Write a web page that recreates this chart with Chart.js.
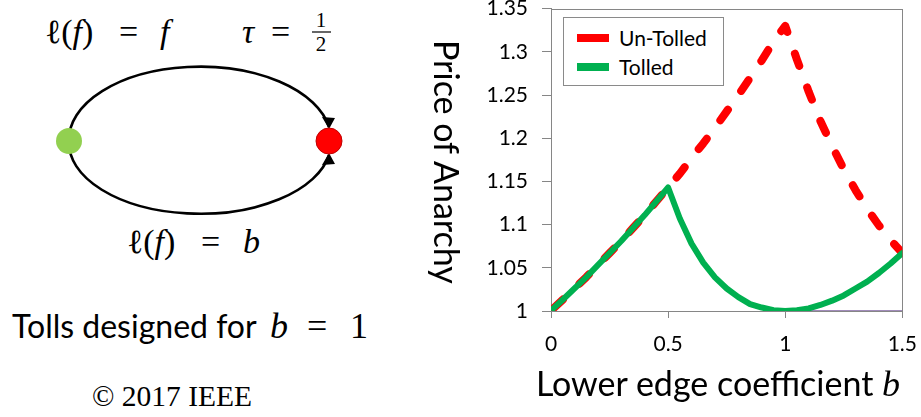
<!DOCTYPE html>
<html>
<head>
<meta charset="utf-8">
<script src="https://cdn.jsdelivr.net/npm/chart.js@4.4.1/dist/chart.umd.min.js"></script>
<style>
  html, body { margin: 0; padding: 0; background: #fff; }
  #page { position: relative; width: 921px; height: 417px; overflow: hidden; font-family: Lato, "Open Sans", sans-serif; }
  #diagram { position: absolute; left: 0; top: 0; }
  #chartBox { position: absolute; left: 420px; top: -18px; width: 511px; height: 435px; }
  #yTitle { position: absolute; left: 429px; top: 40px; writing-mode: vertical-rl; font-size: 34px; line-height: 36px; color: #000; white-space: nowrap; }
  #xTitle { position: absolute; left: 533px; width: 370px; top: 363px; text-align: center; font-size: 34px; line-height: 40px; color: #000; white-space: nowrap; }
  #xTitle i { font-family: "Liberation Serif", "DejaVu Serif", serif; font-size: 36px; }
  #legend { position: absolute; left: 563px; top: 17px; width: 159px; height: 67px; border: 1px solid #8a8a8a; background: #fff; }
  .item { position: absolute; left: 0; height: 24px; font-size: 21px; line-height: 24px; color: #000; white-space: nowrap; }
  .swatch { position: absolute; left: 13px; top: 8px; width: 32px; height: 8px; }
  .item span { position: absolute; left: 55px; top: 0; }
</style>
</head>
<body>
<div id="page">
  <!-- left side: the two-link network -->
  <svg id="diagram" width="420" height="417" xmlns="http://www.w3.org/2000/svg">
    <g font-family="Liberation Serif, DejaVu Serif, serif" fill="#000">
      <text x="45" y="43" font-size="34">ℓ(<tspan font-style="italic">f</tspan>)</text>
      <text x="119" y="43" font-size="34">=</text>
      <text x="160" y="43" font-size="34" font-style="italic">f</text>
      <text x="242" y="43" font-size="34" font-style="italic">τ</text>
      <text x="271" y="43" font-size="34">=</text>
      <text x="321" y="27" font-size="21" text-anchor="middle">1</text>
      <line x1="312" y1="32" x2="331" y2="32" stroke="#000" stroke-width="1.2"/>
      <text x="321" y="51" font-size="21" text-anchor="middle">2</text>
      <text x="127" y="253" font-size="34">ℓ(<tspan font-style="italic">f</tspan>)</text>
      <text x="201" y="253" font-size="34">=</text>
      <text x="243" y="253" font-size="34" font-style="italic">b</text>
    </g>
    <path d="M69,141 A131,73 0 0 1 329,127" fill="none" stroke="#000" stroke-width="2.6"/>
    <path d="M69,141 A131,71 0 0 0 329,155" fill="none" stroke="#000" stroke-width="2.6"/>
    <polygon points="329,129 322,117 335,118" fill="#000"/>
    <polygon points="329,153 322,165 335,164" fill="#000"/>
    <circle cx="69" cy="141" r="13" fill="#92D050"/>
    <circle cx="329" cy="141" r="13" fill="#FF0000" stroke="#C00000" stroke-width="1"/>
    <text x="12" y="338" font-family="Lato, Open Sans, sans-serif" font-size="32" fill="#000">Tolls designed for</text>
    <g font-family="Liberation Serif, DejaVu Serif, serif" fill="#000" font-size="36">
      <text x="270" y="338" font-style="italic">b</text>
      <text x="307" y="338">=</text>
      <text x="350" y="338">1</text>
    </g>
    <text x="92" y="406" font-family="Liberation Serif, DejaVu Serif, serif" font-size="29.5" fill="#000">© 2017 IEEE</text>
  </svg>

  <div id="chartBox"><canvas id="poaChart"></canvas></div>
  <div id="yTitle">Price of Anarchy</div>
  <div id="xTitle">Lower edge coefficient <i>b</i></div>
  <div id="legend">
    <div class="item" style="top:8px"><div class="swatch" style="background:#FF0000"></div><span>Un-Tolled</span></div>
    <div class="item" style="top:37px"><div class="swatch" style="background:#00B050"></div><span>Tolled</span></div>
  </div>
</div>

<script>
// values
const bValues = [0.01, 0.05, 0.1, 0.15, 0.2, 0.25, 0.3, 0.35, 0.4, 0.45, 0.5,
  0.55, 0.6, 0.65, 0.7, 0.75, 0.8, 0.85, 0.9, 0.95, 1.0,
  1.05, 1.1, 1.15, 1.2, 1.25, 1.3, 1.35, 1.4, 1.45, 1.5];
const unTolled = [1.003, 1.013, 1.026, 1.039, 1.053, 1.067, 1.081, 1.096, 1.111, 1.127, 1.143,
  1.159, 1.177, 1.194, 1.212, 1.231, 1.250, 1.270, 1.290, 1.312, 1.330,
  1.291, 1.254, 1.220, 1.191, 1.164, 1.140, 1.118, 1.099, 1.082, 1.067];
const tolled = [1.003, 1.013, 1.026, 1.039, 1.053, 1.067, 1.081, 1.096, 1.111, 1.127, 1.143,
  1.107, 1.078, 1.056, 1.039, 1.026, 1.016, 1.008, 1.004, 1.001, 1.000,
  1.001, 1.003, 1.007, 1.012, 1.018, 1.026, 1.034, 1.044, 1.055, 1.067];
const baselineB = [1.0, 1.5];
const baselineValues = [1, 1];
const xTickLabels = ['0', '0.5', '1', '1.5'];
const yTickLabels = ['1', '1.05', '1.1', '1.15', '1.2', '1.25', '1.3', '1.35'];

const axisGrey = '#868686';

function toPoints(xs, ys) {
  return xs.map((x, i) => ({ x: x, y: ys[i] }));
}

// grey frame around the plot area
const plotFrame = {
  id: 'plotFrame',
  beforeDatasetsDraw(chart) {
    const a = chart.chartArea;
    const ctx = chart.ctx;
    ctx.save();
    ctx.strokeStyle = axisGrey;
    ctx.lineWidth = 1;
    ctx.strokeRect(Math.round(a.left) + 0.5, Math.round(a.top) + 0.5, Math.round(a.right - a.left), Math.round(a.bottom - a.top));
    ctx.restore();
  }
};

function createPoaChart() {
  new Chart(document.getElementById('poaChart'), {
    type: 'line',
    data: {
      datasets: [{
        label: 'Tolled',
        data: toPoints(bValues, tolled),
        borderColor: '#00B050',
        borderWidth: 6,
        pointRadius: 0,
        tension: 0,
        borderCapStyle: 'round',
        borderJoinStyle: 'round',
        order: 0
      }, {
        label: 'Un-Tolled',
        data: toPoints(bValues, unTolled),
        borderColor: '#FF0000',
        borderWidth: 8,
        borderDash: [13, 23],
        borderCapStyle: 'round',
        borderJoinStyle: 'round',
        pointRadius: 0,
        tension: 0,
        order: 1
      }, {
        label: 'baseline',
        data: toPoints(baselineB, baselineValues),
        borderColor: '#8064A2',
        borderWidth: 1.5,
        pointRadius: 0,
        order: 2
      }]
    },
    options: {
      responsive: true,
      maintainAspectRatio: false,
      animation: false,
      layout: { padding: { top: 8, right: 18, left: 0, bottom: 0 } },
      plugins: {
        legend: { display: false },
        tooltip: { enabled: false }
      },
      scales: {
        x: {
          type: 'linear',
          min: 0,
          max: 1.5,
          afterFit: s => { s.height = 106; },
          ticks: {
            stepSize: 0.5,
            color: '#000',
            padding: 14,
            font: { family: 'Lato', size: 21 },
            callback: (v, i) => xTickLabels[i]
          },
          grid: { drawOnChartArea: false, color: axisGrey, tickLength: 7 },
          border: { color: axisGrey, width: 1 }
        },
        y: {
          min: 1,
          max: 1.35,
          afterFit: s => { s.width = 131; },
          ticks: {
            stepSize: 0.05,
            color: '#000',
            padding: 14,
            font: { family: 'Lato', size: 21 },
            callback: (v, i) => yTickLabels[i]
          },
          grid: { drawOnChartArea: false, color: axisGrey, tickLength: 9 },
          border: { color: axisGrey, width: 1 }
        }
      }
    },
    plugins: [plotFrame]
  });
}

document.addEventListener('DOMContentLoaded', createPoaChart);
</script>
</body>
</html>
